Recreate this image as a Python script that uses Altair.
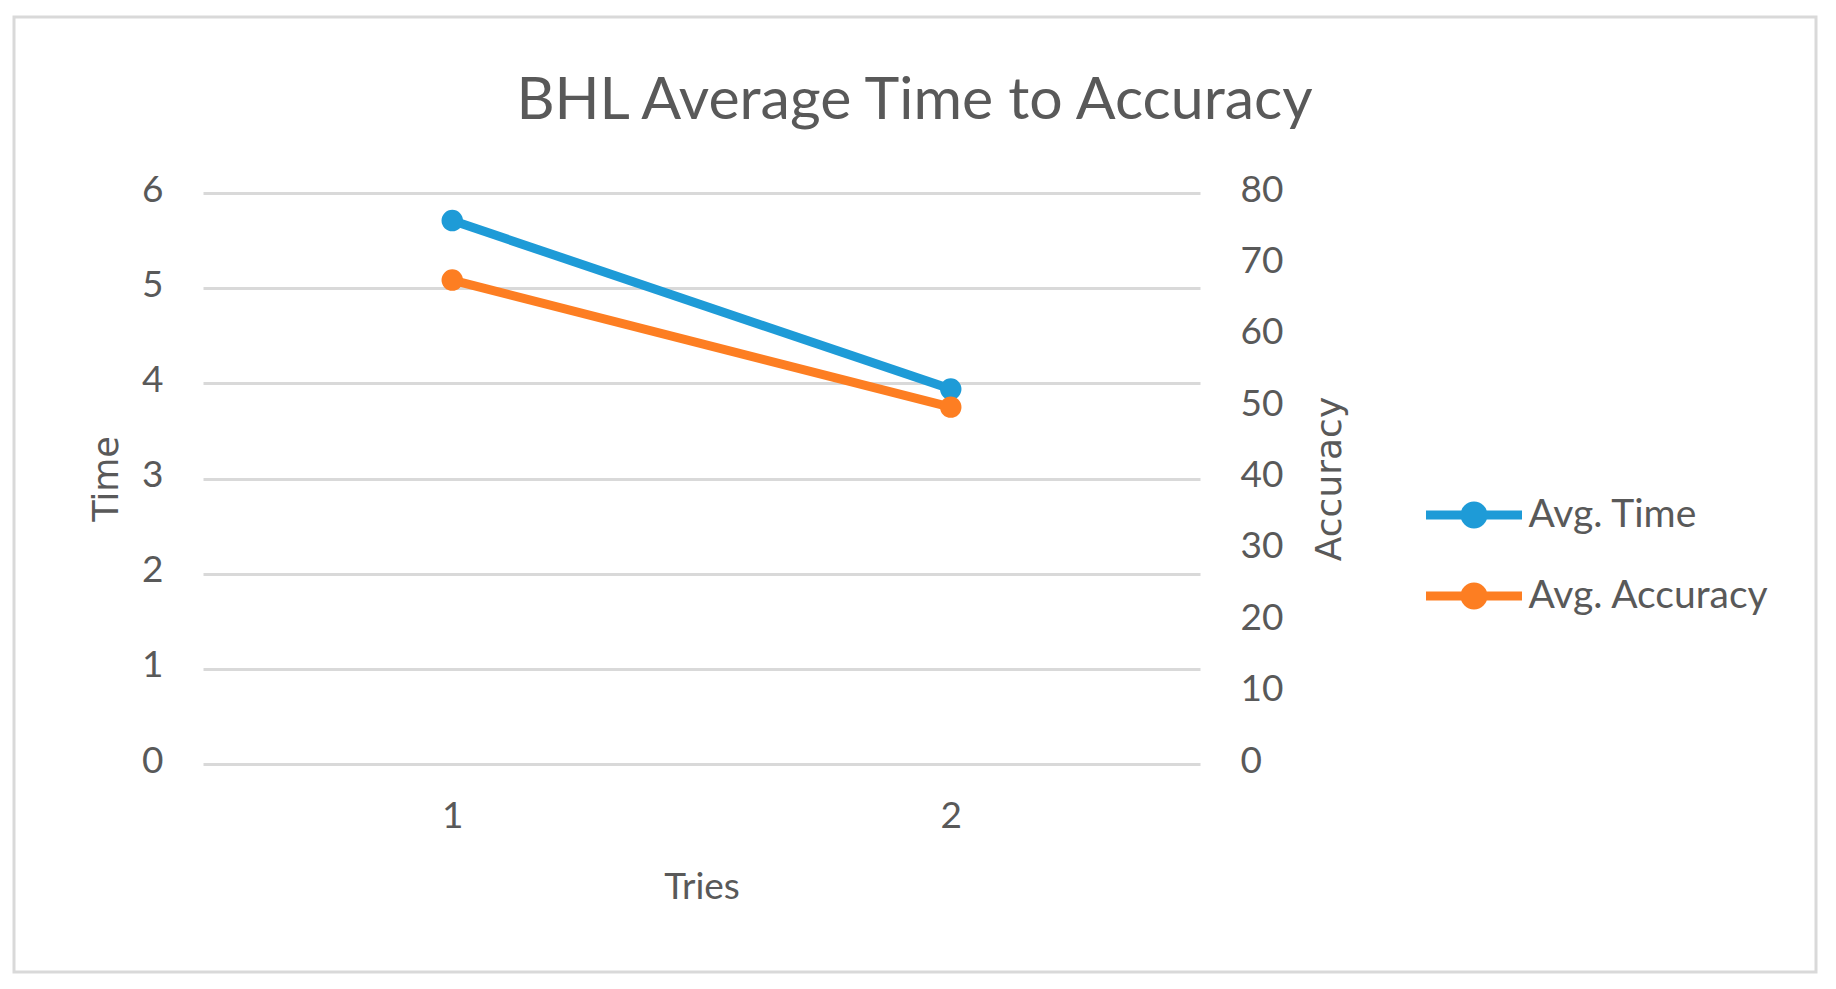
import altair as alt
import pandas as pd

# ---- data ----
tries = ["1", "2"]
avg_time = [5.71, 3.94]
avg_accuracy = [67.8, 50.0]
series_names = ["Avg. Time", "Avg. Accuracy"]
series_colors = ["#1E9BD7", "#FD7E22"]
time_ticks = [0, 1, 2, 3, 4, 5, 6]
acc_ticks = [0, 10, 20, 30, 40, 50, 60, 70, 80]

df = pd.DataFrame({"Tries": tries, "Time": avg_time, "Accuracy": avg_accuracy})

FONT = "Lato"
TFONT = "DejaVu Sans"
TXT = "#595959"
GRID = "#D9D9D9"
W, H = 997, 571
LBL = 37

# legend symbol: line with a filled dot in the middle
SYM = ("M-1,0L1,0"
       "M0.1875,0A0.1875,0.1875,0,1,1,-0.1875,0A0.1875,0.1875,0,1,1,0.1875,0"
       "M0.09375,0A0.09375,0.09375,0,1,1,-0.09375,0A0.09375,0.09375,0,1,1,0.09375,0")


def legend(color, y):
    return alt.Legend(
        orient="none", legendX=1218.5, legendY=y, title=None,
        symbolType=SYM, symbolSize=9216, symbolStrokeWidth=9,
        symbolFillColor=color, symbolStrokeColor=color,
        labelFont=FONT, labelFontSize=39, labelColor=TXT, labelOffset=2,
        labelLimit=500, padding=0,
    )


x_enc = alt.X(
    "Tries:O",
    scale=alt.Scale(type="point", padding=0.5),
    axis=alt.Axis(
        title="Tries", labelAngle=0, labelPadding=34, labelFont=FONT,
        labelFontSize=LBL, labelColor=TXT, domain=False, ticks=False,
        titleFont=FONT, titleFontSize=LBL, titleColor=TXT, titleFontWeight="normal",
        titleX=W / 2, titleY=134, titleBaseline="alphabetic", titleAlign="center",
        grid=False,
    ),
)

line_kw = dict(strokeWidth=9, point=alt.OverlayMarkDef(size=460, filled=True, opacity=1))

time_line = (
    alt.Chart(df)
    .transform_calculate(series="'Avg. Time'")
    .mark_line(**line_kw)
    .encode(
        x=x_enc,
        y=alt.Y(
            "Time:Q",
            scale=alt.Scale(domain=[0, 6], nice=False),
            axis=alt.Axis(
                orient="left", values=time_ticks, title="Time", grid=True,
                gridColor=GRID, gridWidth=3, domain=False, ticks=False,
                labelPadding=40, labelFont=FONT, labelFontSize=LBL, labelColor=TXT,
                labelOffset=-3,
                titleFont=TFONT, titleFontSize=35, titleColor=TXT, titleFontWeight="normal",
                titleAngle=270, titleX=-97, titleY=H / 2, titleAlign="center",
                titleBaseline="middle",
            ),
        ),
        color=alt.Color(
            "series:N",
            scale=alt.Scale(domain=[series_names[0]], range=[series_colors[0]]),
            legend=legend(series_colors[0], 269.5),
        ),
    )
)

acc_line = (
    alt.Chart(df)
    .transform_calculate(series="'Avg. Accuracy'")
    .mark_line(**line_kw)
    .encode(
        x=x_enc,
        y=alt.Y(
            "Accuracy:Q",
            scale=alt.Scale(domain=[0, 80], nice=False),
            axis=alt.Axis(
                orient="right", values=acc_ticks, title="Accuracy", grid=False,
                domain=False, ticks=False,
                labelPadding=40, labelFont=FONT, labelFontSize=LBL, labelColor=TXT,
                labelOffset=-3,
                titleFont=TFONT, titleFontSize=36, titleColor=TXT, titleFontWeight="normal",
                titleAngle=270, titleX=129, titleY=H / 2, titleAlign="center",
                titleBaseline="middle",
            ),
        ),
        color=alt.Color(
            "series:N",
            scale=alt.Scale(domain=[series_names[1]], range=[series_colors[1]]),
            legend=legend(series_colors[1], 350.5),
        ),
    )
)

border = (
    alt.Chart(pd.DataFrame({"k": [0]}))
    .mark_rect(fillOpacity=0, stroke=GRID, strokeWidth=3)
    .encode(x=alt.value(-189), x2=alt.value(1613), y=alt.value(-176), y2=alt.value(779))
)

chart = (
    alt.layer(border, time_line, acc_line)
    .resolve_scale(y="independent", color="independent")
    .resolve_legend(color="independent")
    .properties(
        width=W, height=H,
        autosize=alt.AutoSizeParams(type="none"),
        padding={"left": 195, "top": 185, "right": 620, "bottom": 212},
        title=alt.TitleParams(
            "BHL Average Time to Accuracy", font=FONT, fontSize=59, fontWeight="normal",
            color=TXT, anchor="middle", dx=213, offset=-115,
        ),
        background="white",
    )
    .configure_view(strokeWidth=0)
)

chart.save("out.html", embed_options={"renderer": "svg", "actions": False})
